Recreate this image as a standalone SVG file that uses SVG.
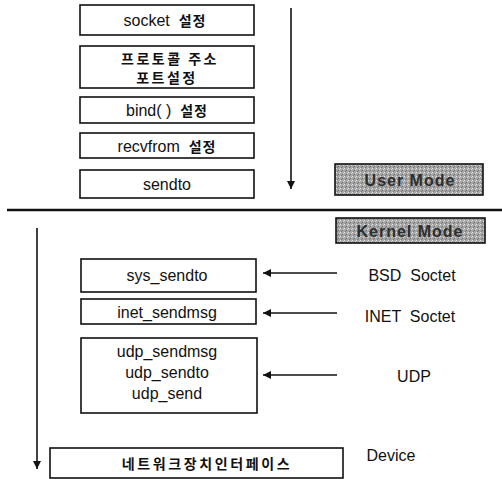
<svg xmlns="http://www.w3.org/2000/svg" width="502" height="479" viewBox="0 0 502 479">
<style>
.box{fill:#fff;stroke:#111;stroke-width:1.6}
.t{font-family:"Liberation Sans",Arial,"Noto Sans CJK KR",sans-serif;font-size:16px;fill:#111;text-anchor:middle}
.k{font-family:"Noto Sans CJK KR","Liberation Sans",sans-serif;font-size:14px;font-weight:bold;fill:#111;text-anchor:middle}
.mode{stroke:#111;stroke-width:1.6;fill:url(#dither)}
.mt{font-family:"Liberation Sans",Arial,sans-serif;font-size:16px;font-weight:bold;fill:#2e2e2e;text-anchor:middle;letter-spacing:1px}
.ln{stroke:#111;stroke-width:1.6;fill:none}
</style>
<defs>
<pattern id="dither" width="4" height="4" patternUnits="userSpaceOnUse">
<rect width="4" height="4" fill="#a6a6a6"/>
<rect x="0" y="0" width="1" height="1" fill="#e6e6e6"/>
<rect x="2" y="2" width="1" height="1" fill="#6a6a6a"/>
<rect x="3" y="1" width="1" height="1" fill="#d4d4d4"/>
<rect x="1" y="3" width="1" height="1" fill="#7a7a7a"/>
</pattern>
<marker id="ah" viewBox="0 0 10 10" refX="10" refY="5" markerWidth="8" markerHeight="8" markerUnits="userSpaceOnUse" orient="auto">
<path d="M0,0 L10,5 L0,10 Z" fill="#111"/>
</marker>
</defs>

<g id="connectors">
<line class="ln" x1="291" y1="8" x2="291" y2="189" marker-end="url(#ah)"/>
<line class="ln" x1="37" y1="228" x2="37" y2="469" marker-end="url(#ah)"/>
<line class="ln" x1="337" y1="273" x2="263" y2="273" marker-end="url(#ah)"/>
<line class="ln" x1="337" y1="313" x2="263" y2="313" marker-end="url(#ah)"/>
<line class="ln" x1="337" y1="375" x2="263" y2="375" marker-end="url(#ah)"/>
</g>

<g id="separator">
<line x1="7" y1="210" x2="502" y2="210" stroke="#111" stroke-width="2.6"/>
</g>

<g id="socket"><rect class="box" x="80" y="5" width="174" height="30"/><text class="t" x="165" y="26" xml:space="preserve">socket  <tspan class="k" font-size="15" letter-spacing="1">설정</tspan></text></g>
<g id="protocol"><rect class="box" x="80" y="46" width="174" height="42"/><text class="k" x="170" y="64" letter-spacing="2.5" font-size="14.5">프로토콜 주소</text><text class="k" x="167" y="83" letter-spacing="2.5" font-size="14.5">포트설정</text></g>
<g id="bind"><rect class="box" x="80" y="97" width="174" height="26"/><text class="t" x="167" y="116" xml:space="preserve">bind( )  <tspan class="k" font-size="15" letter-spacing="1">설정</tspan></text></g>
<g id="recvfrom"><rect class="box" x="80" y="133" width="174" height="25"/><text class="t" x="167" y="152" xml:space="preserve">recvfrom  <tspan class="k" font-size="15" letter-spacing="1">설정</tspan></text></g>
<g id="sendto"><rect class="box" x="80" y="170" width="174" height="28"/><text class="t" x="167" y="190">sendto</text></g>

<g id="user-mode"><rect class="mode" x="335" y="164" width="148" height="31"/><text class="mt" x="410" y="186">User Mode</text></g>
<g id="kernel-mode"><rect class="mode" x="336" y="218" width="149" height="25"/><text class="mt" x="410" y="237">Kernel Mode</text></g>

<g id="sys_sendto"><rect class="box" x="81" y="259" width="175" height="33"/><text class="t" x="167" y="281">sys_sendto</text></g>
<g id="inet_sendmsg"><rect class="box" x="81" y="299" width="175" height="25"/><text class="t" x="167" y="318">inet_sendmsg</text></g>
<g id="udp"><rect class="box" x="81" y="338" width="176" height="75"/><text class="t" x="167" y="357">udp_sendmsg</text><text class="t" x="167" y="378">udp_sendto</text><text class="t" x="167" y="399">udp_send</text></g>
<g id="device"><rect class="box" x="50" y="448" width="293" height="30"/><text class="k" x="207" y="469" letter-spacing="2.6">네트워크장치인터페이스</text></g>

<g id="labels">
<text class="t" x="412" y="281" xml:space="preserve">BSD  Soctet</text>
<text class="t" x="410" y="322" xml:space="preserve">INET  Soctet</text>
<text class="t" x="414" y="382">UDP</text>
<text class="t" x="391" y="461">Device</text>
</g>
</svg>
